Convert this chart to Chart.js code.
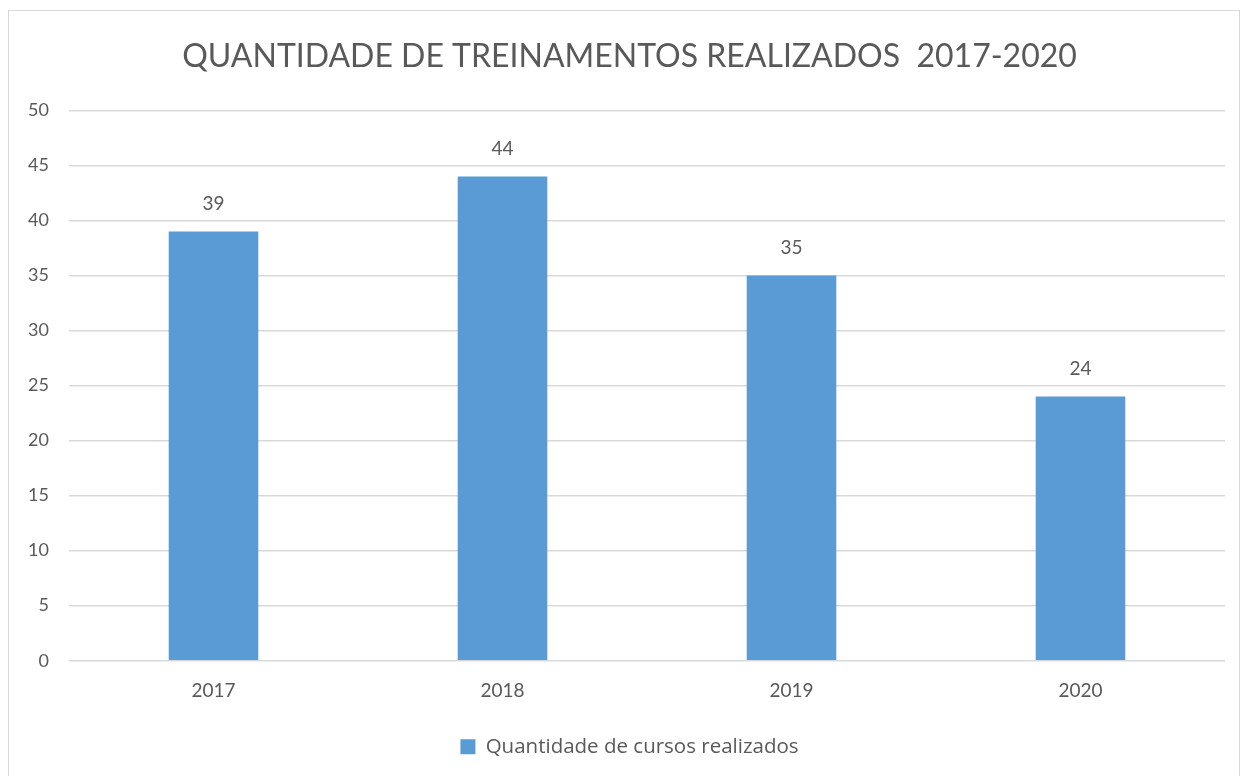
<!DOCTYPE html>
<html><head><meta charset="utf-8">
<script src="https://cdn.jsdelivr.net/npm/chart.js@4.4.0/dist/chart.umd.min.js"></script>
<style>
html,body{margin:0;padding:0;background:#fff;}
#frame{position:absolute;left:8px;top:10px;width:1232px;height:775px;border:1px solid #d9d9d9;box-sizing:border-box;}
#wrap{position:absolute;left:0;top:0;width:1245px;height:776px;}
</style></head>
<body>
<div id="frame"></div>
<div id="wrap"><canvas id="c" width="1245" height="776"></canvas></div>
<script>
const categories = ['2017','2018','2019','2020'];
const cursos = [39, 44, 35, 24];
const seriesName = 'Quantidade de cursos realizados';
const titleText = 'QUANTIDADE DE TREINAMENTOS REALIZADOS  2017-2020';
const FONT = 'Lato, "Open Sans", sans-serif';
const TXT = '#595959';

const labelPlugin = {
  id: 'valLabels',
  afterDatasetsDraw(chart){
    const ctx = chart.ctx;
    const meta = chart.getDatasetMeta(0);
    ctx.save();
    ctx.font = '19px ' + FONT;
    ctx.fillStyle = TXT;
    ctx.textAlign = 'center';
    ctx.textBaseline = 'bottom';
    meta.data.forEach((bar, i) => {
      ctx.fillText(String(cursos[i]), bar.x, bar.y - 18);
    });
    ctx.restore();
  }
};

new Chart(document.getElementById('c'), {
  type: 'bar',
  data: {
    labels: categories,
    datasets: [{
      label: seriesName,
      data: cursos,
      backgroundColor: '#5b9bd5',
      borderWidth: 0,
      barPercentage: 0.31,
      categoryPercentage: 1.0
    }]
  },
  options: {
    responsive: false,
    animation: false,
    layout: { padding: { left: 22, right: 8, top: 37, bottom: 9 } },
    plugins: {
      title: {
        display: true, text: titleText, color: TXT,
        font: { family: FONT, size: 32, weight: 'normal' },
        padding: { top: 0, bottom: 35 }
      },
      legend: {
        position: 'bottom',
        labels: { color: TXT, font: { family: '"Open Sans", sans-serif', size: 20.5 }, boxWidth: 15, boxHeight: 15, padding: 23 }
      },
      tooltip: { enabled: false }
    },
    scales: {
      x: {
        grid: { display: false },
        border: { display: false },
        ticks: { color: TXT, font: { family: FONT, size: 19 }, padding: 11 }
      },
      y: {
        min: 0, max: 50,
        afterFit(s){ s.width = 47; },
        grid: { color: '#d9d9d9', lineWidth: 1.5, drawTicks: false },
        border: { display: false },
        ticks: { stepSize: 5, color: TXT, font: { family: FONT, size: 18 }, padding: 20 }
      },
      yRightSpace: {
        type: 'linear', position: 'right', display: true,
        afterFit(s){ s.width = 12; },
        grid: { display: false, drawTicks: false },
        border: { display: false },
        ticks: { display: false }
      }
    }
  },
  plugins: [labelPlugin]
});
</script>
</body></html>
